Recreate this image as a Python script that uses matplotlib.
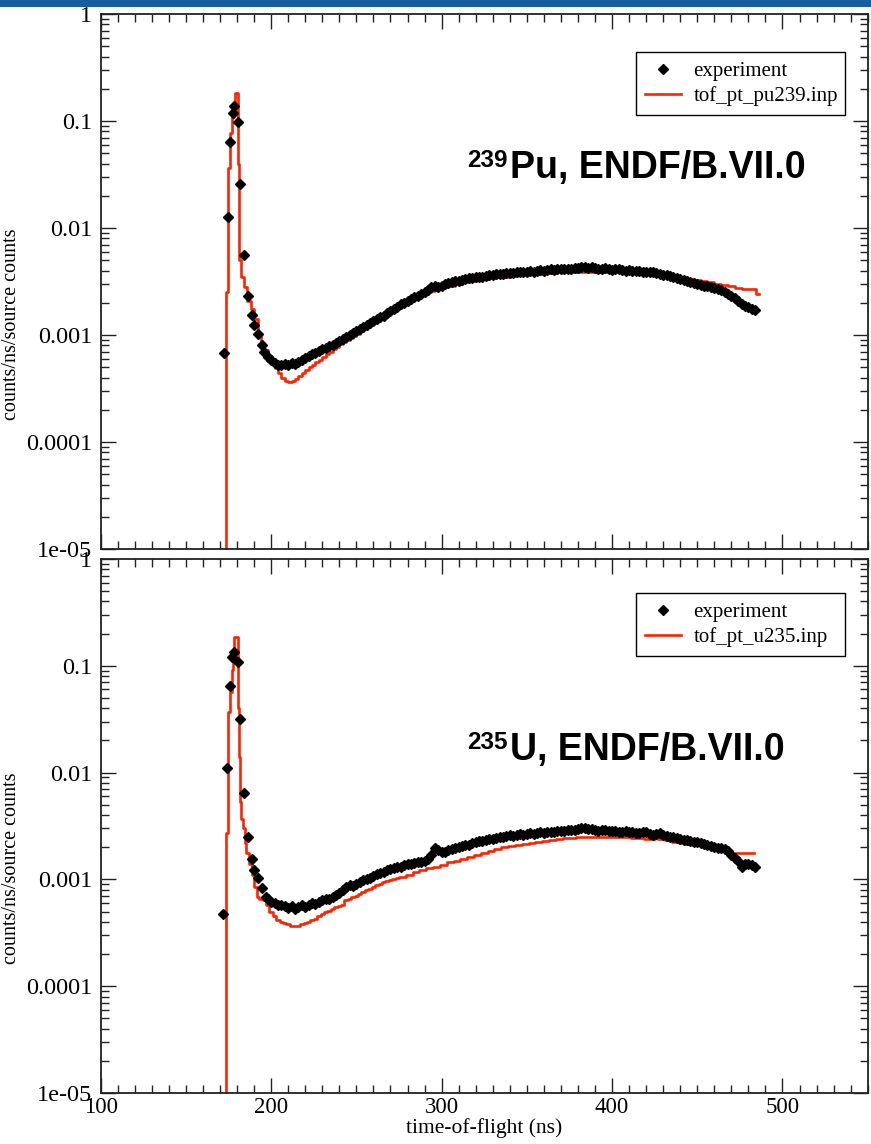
import matplotlib
matplotlib.use("Agg")
import matplotlib.pyplot as plt
from matplotlib.ticker import FixedLocator, FixedFormatter, MultipleLocator, NullFormatter, LogLocator
from matplotlib.patches import Rectangle

# ---------------- data ----------------
# Pu-239 panel: experiment (time-of-flight ns, counts/ns/source counts)
pu_exp_t = [172.5, 174.6, 175.9, 177.5, 178.3, 180.4, 181.8, 184.3, 186.3, 188.6, 190.1, 192.1, 194.5,
            196, 198, 200, 202, 204, 206, 208, 210, 212, 214, 216, 218, 220, 222, 224, 226, 228, 230,
            232, 234, 236, 238, 240, 242, 244, 246, 248, 250, 252, 254, 256, 258, 260, 262, 264, 266,
            268, 270, 272, 274, 276, 278, 280, 282, 284, 286, 288, 290, 292, 294, 296, 298, 300, 302,
            304, 306, 308, 310, 312, 314, 316, 318, 320, 322, 324, 326, 328, 330, 332, 334, 336, 338,
            340, 342, 344, 346, 348, 350, 352, 354, 356, 358, 360, 362, 364, 366, 368, 370, 372, 374,
            376, 378, 380, 382, 384, 386, 388, 390, 392, 394, 396, 398, 400, 402, 404, 406, 408, 410,
            412, 414, 416, 418, 420, 422, 424, 426, 428, 430, 432, 434, 436, 438, 440, 442, 444, 446,
            448, 450, 452, 454, 456, 458, 460, 462, 464, 466, 468, 470, 472, 474, 476, 478, 480, 482, 484]
pu_exp_v = [0.00068, 0.0126, 0.064, 0.12, 0.138, 0.098, 0.026, 0.0056, 0.0023, 0.00155, 0.00123, 0.00102, 0.00081,
            0.00070, 0.00062, 0.00058, 0.00055, 0.00053, 0.00052, 0.00054, 0.00053, 0.00055, 0.00054, 0.00056,
            0.00058, 0.00061, 0.00063, 0.00066, 0.00068, 0.00071, 0.00074, 0.00076, 0.00079, 0.00081, 0.00084,
            0.00088, 0.00091, 0.00096, 0.00100, 0.00104, 0.00108, 0.00113, 0.00118, 0.00124, 0.00129, 0.00134,
            0.00140, 0.00146, 0.00152, 0.00160, 0.00166, 0.00174, 0.00182, 0.00195, 0.00198, 0.00210, 0.00218,
            0.00225, 0.00232, 0.00240, 0.00250, 0.00262, 0.00278, 0.00285, 0.00282, 0.00290, 0.00298, 0.00305,
            0.00310, 0.00318, 0.00322, 0.00328, 0.00335, 0.00340, 0.00343, 0.00345, 0.00352, 0.00350, 0.00358,
            0.00362, 0.00360, 0.00368, 0.00372, 0.00370, 0.00376, 0.00380, 0.00378, 0.00385, 0.00390, 0.00388,
            0.00392, 0.00395, 0.00392, 0.00398, 0.00402, 0.00400, 0.00405, 0.00410, 0.00405, 0.00412, 0.00415,
            0.00410, 0.00418, 0.00415, 0.00420, 0.00425, 0.00430, 0.00428, 0.00425, 0.00430, 0.00422, 0.00418,
            0.00415, 0.00420, 0.00412, 0.00408, 0.00415, 0.00410, 0.00402, 0.00398, 0.00405, 0.00400, 0.00395,
            0.00398, 0.00392, 0.00388, 0.00392, 0.00385, 0.00380, 0.00372, 0.00365, 0.00360, 0.00355, 0.00348,
            0.00342, 0.00335, 0.00328, 0.00320, 0.00312, 0.00305, 0.00298, 0.00292, 0.00288, 0.00285, 0.00280,
            0.00276, 0.00270, 0.00262, 0.00252, 0.00242, 0.00232, 0.00222, 0.00208, 0.00195, 0.00185, 0.00182,
            0.00176, 0.00172]

# Pu-239 panel: calculation (histogram, left bin edges and values)
pu_calc_t = [172.0, 173.6, 174.4, 175.9, 177.0, 178.0, 178.9, 180.3, 181.3, 182.4,
             184, 186, 188, 190, 192, 194, 196, 198, 200, 202, 204, 206, 208, 210, 212, 214, 216, 218,
             220, 222, 224, 226, 228, 230, 232, 234, 236, 238, 240, 242, 244, 246, 248, 250, 252, 254,
             256, 258, 260, 262, 264, 266, 268, 270, 272, 274, 276, 278, 280, 282, 284, 286, 288, 290,
             292, 294, 296, 298, 300, 304, 308, 312, 316, 320, 324, 328, 332, 336, 340, 344, 348, 352,
             356, 360, 364, 368, 372, 376, 380, 384, 388, 392, 396, 400, 404, 408, 412, 416, 420, 424,
             428, 432, 436, 440, 444, 448, 452, 456, 460, 464, 468, 472, 476, 480, 484.6, 486.0]
pu_calc_v = [1e-7, 0.0025, 0.036, 0.077, 0.11, 0.15, 0.184, 0.040, 0.005, 0.0035,
             0.0028, 0.0021, 0.00175, 0.0014, 0.00105, 0.00085, 0.00072, 0.00063, 0.00055, 0.00049,
             0.00044, 0.00040, 0.00037, 0.00036, 0.00037, 0.00039, 0.00041, 0.00044, 0.00047, 0.00050,
             0.00053, 0.00056, 0.00059, 0.00062, 0.00066, 0.00070, 0.00074, 0.00078, 0.00082, 0.00086,
             0.00090, 0.00094, 0.00098, 0.00103, 0.00108, 0.00114, 0.00120, 0.00126, 0.00132, 0.00138,
             0.00145, 0.00152, 0.00160, 0.00167, 0.00175, 0.00183, 0.00190, 0.00197, 0.00205, 0.00212,
             0.00220, 0.00228, 0.00236, 0.00244, 0.00252, 0.00260, 0.00268, 0.00274, 0.00280, 0.00290,
             0.00300, 0.00310, 0.00318, 0.00326, 0.00333, 0.00340, 0.00346, 0.00352, 0.00358, 0.00362,
             0.00367, 0.00371, 0.00375, 0.00378, 0.00381, 0.00384, 0.00386, 0.00388, 0.00390, 0.00392,
             0.00390, 0.00388, 0.00388, 0.00386, 0.00386, 0.00384, 0.00380, 0.00376, 0.00370, 0.00365,
             0.00358, 0.00350, 0.00345, 0.00340, 0.00335, 0.00330, 0.00320, 0.00310, 0.00300, 0.00292,
             0.00285, 0.00275, 0.00268, 0.00268, 0.00240, 0.00240]

# U-235 panel: experiment
u_exp_t = [171.6, 174.3, 175.9, 177.3, 178.3, 180.4, 181.7, 184.3, 186.3, 188.6, 190.1, 192.1, 194.5, 197,
           198, 200, 202, 204, 206, 208, 210, 212, 214, 216, 218, 220, 222, 224, 226, 228, 230, 232, 234,
           236, 238, 240, 242, 244, 246, 248, 250, 252, 254, 256, 258, 260, 262, 264, 266, 268, 270, 272,
           274, 276, 278, 280, 282, 284, 286, 288, 290, 292, 294, 296, 298, 300, 302, 304, 306, 308, 310,
           312, 314, 316, 318, 320, 322, 324, 326, 328, 330, 332, 334, 336, 338, 340, 342, 344, 346, 348,
           350, 352, 354, 356, 358, 360, 362, 364, 366, 368, 370, 372, 374, 376, 378, 380, 382, 384, 386,
           388, 390, 392, 394, 396, 398, 400, 402, 404, 406, 408, 410, 412, 414, 416, 418, 420, 422, 424,
           426, 428, 430, 432, 434, 436, 438, 440, 442, 444, 446, 448, 450, 452, 454, 456, 458, 460, 462,
           464, 466, 468, 470, 472, 474, 476, 478, 480, 482, 484]
u_exp_v = [0.00047, 0.011, 0.065, 0.12, 0.135, 0.109, 0.0316, 0.0065, 0.0025, 0.00155, 0.00123, 0.00102, 0.00083, 0.00069,
           0.00066, 0.00062, 0.00060, 0.00058, 0.00057, 0.00056, 0.00054, 0.00056, 0.00053, 0.00055, 0.00057,
           0.00055, 0.00058, 0.00060, 0.00059, 0.00062, 0.00064, 0.00066, 0.00065, 0.00068, 0.00072, 0.00075,
           0.00080, 0.00085, 0.00088, 0.00086, 0.00090, 0.00095, 0.00098, 0.00100, 0.00104, 0.00108, 0.00112,
           0.00115, 0.00118, 0.00122, 0.00125, 0.00128, 0.00130, 0.00132, 0.00135, 0.00138, 0.00140, 0.00142,
           0.00145, 0.00146, 0.00150, 0.00155, 0.00168, 0.00195, 0.00190, 0.00180, 0.00182, 0.00188, 0.00192,
           0.00198, 0.00202, 0.00205, 0.00210, 0.00212, 0.00218, 0.00225, 0.00230, 0.00228, 0.00235, 0.00240,
           0.00238, 0.00245, 0.00250, 0.00248, 0.00255, 0.00258, 0.00255, 0.00262, 0.00265, 0.00262, 0.00268,
           0.00270, 0.00268, 0.00272, 0.00275, 0.00272, 0.00276, 0.00280, 0.00278, 0.00282, 0.00285, 0.00282,
           0.00288, 0.00292, 0.00290, 0.00295, 0.00305, 0.00302, 0.00298, 0.00295, 0.00290, 0.00285, 0.00288,
           0.00290, 0.00285, 0.00282, 0.00286, 0.00280, 0.00276, 0.00282, 0.00278, 0.00275, 0.00270, 0.00272,
           0.00278, 0.00275, 0.00268, 0.00262, 0.00265, 0.00270, 0.00262, 0.00255, 0.00250, 0.00248, 0.00245,
           0.00240, 0.00236, 0.00232, 0.00228, 0.00225, 0.00222, 0.00218, 0.00214, 0.00210, 0.00206, 0.00200,
           0.00198, 0.00196, 0.00192, 0.00185, 0.00170, 0.00160, 0.00148, 0.00130, 0.00138, 0.00140, 0.00136,
           0.00132]

# U-235 panel: calculation (histogram, left bin edges and values)
u_calc_t = [171.5, 173.8, 174.5, 175.9, 176.8, 177.8, 178.5, 180.4, 181.3, 181.7, 182.6, 183.5, 184.5,
            185.5, 187, 188.5, 190, 191.5, 193, 195, 197, 199, 201, 203, 205, 207, 209, 211, 213, 215, 217,
            219, 221, 223, 225, 227, 229, 231, 233, 235, 237, 239, 241, 243, 245, 247, 249, 251, 253, 255,
            257, 259, 261, 263, 265, 267, 269, 271, 273, 275, 279, 283, 287, 291, 295, 299, 303, 307, 311,
            315, 319, 323, 327, 331, 335, 339, 343, 347, 351, 355, 359, 363, 367, 371, 375, 379, 383, 387,
            391, 395, 399, 403, 407, 411, 415, 419, 423, 425, 427, 431, 435, 439, 443, 447, 451, 455, 459,
            463, 466, 483.4]
u_calc_v = [1e-7, 0.0027, 0.037, 0.057, 0.091, 0.14, 0.187, 0.040, 0.014, 0.0053, 0.0037, 0.0030, 0.0022,
            0.00176, 0.0014, 0.0011, 0.00085, 0.00068, 0.00066, 0.00064, 0.00058, 0.00050, 0.00045, 0.00042,
            0.00040, 0.00039, 0.00038, 0.00037, 0.00037, 0.00037, 0.00038, 0.00039, 0.00040, 0.00042, 0.00043,
            0.00045, 0.00047, 0.00049, 0.00051, 0.00053, 0.00055, 0.00056, 0.00057, 0.00064, 0.00066, 0.00068,
            0.00070, 0.00073, 0.00076, 0.00079, 0.00082, 0.00085, 0.00088, 0.00091, 0.00094, 0.00097, 0.00099,
            0.00101, 0.00104, 0.00106, 0.00111, 0.00117, 0.00123, 0.00127, 0.00131, 0.00137, 0.00144, 0.00150,
            0.00156, 0.00163, 0.00170, 0.00177, 0.00185, 0.00192, 0.00200, 0.00205, 0.00210, 0.00215, 0.00220,
            0.00225, 0.00230, 0.00235, 0.00238, 0.00242, 0.00245, 0.00248, 0.00250, 0.00251, 0.00251, 0.00251,
            0.00250, 0.00250, 0.00249, 0.00246, 0.00243, 0.00240, 0.00240, 0.00252, 0.00238, 0.00232, 0.00226,
            0.00220, 0.00216, 0.00212, 0.00208, 0.00205, 0.00202, 0.00199, 0.00178, 0.00178]

y_ticks = [1e-5, 1e-4, 1e-3, 1e-2, 1e-1, 1]
y_tick_labels = ["1e-05", "0.0001", "0.001", "0.01", "0.1", "1"]
x_ticks = [100, 200, 300, 400, 500]
x_tick_labels = ["100", "200", "300", "400", "500"]

panels = [
    dict(exp_t=pu_exp_t, exp_v=pu_exp_v, calc_t=pu_calc_t, calc_v=pu_calc_v,
         calc_label="tof_pt_pu239.inp", sup="239", name="Pu, ENDF/B.VII.0"),
    dict(exp_t=u_exp_t, exp_v=u_exp_v, calc_t=u_calc_t, calc_v=u_calc_v,
         calc_label="tof_pt_u235.inp", sup="235", name="U, ENDF/B.VII.0"),
]

# ---------------- figure ----------------
W, H = 871, 1144
fig = plt.figure(figsize=(W / 100, H / 100), dpi=100)
plt.rcParams['font.family'] = ['Liberation Serif', 'DejaVu Serif']

RED = '#ff2200'
left_px, right_px = 100.7, 867.7
boxes = [(14, 549), (559, 1093)]
legend_tops = [0.929, 0.9363]
text_base = [0.6935, 0.6236]

# blue band at top
fig.add_artist(Rectangle((0, 1 - 7 / H), 1, 7 / H, transform=fig.transFigure,
                         facecolor='#155f9f', edgecolor='none'))

for i, (p, (top_px, bot_px)) in enumerate(zip(panels, boxes)):
    ax = fig.add_axes([left_px / W, 1 - bot_px / H, (right_px - left_px) / W, (bot_px - top_px) / H])
    ax.set_yscale('log')
    ax.set_xlim(100, 550)
    ax.set_ylim(1e-5, 1)

    ln, = ax.step(p['calc_t'], p['calc_v'], where='post', color=RED, lw=1.9, zorder=2)
    pts, = ax.plot(p['exp_t'], p['exp_v'], linestyle='none', marker='D', markersize=4.8,
                   color='black', zorder=3)

    ax.xaxis.set_major_locator(FixedLocator(x_ticks))
    ax.xaxis.set_minor_locator(MultipleLocator(10))
    ax.yaxis.set_major_locator(FixedLocator(y_ticks))
    ax.yaxis.set_major_formatter(FixedFormatter(y_tick_labels))
    ax.yaxis.set_minor_locator(LogLocator(base=10, subs=range(2, 10)))
    ax.yaxis.set_minor_formatter(NullFormatter())
    if i == 1:
        ax.xaxis.set_major_formatter(FixedFormatter(x_tick_labels))
        ax.set_xlabel('time-of-flight (ns)', fontsize=15.5, labelpad=0)
    else:
        ax.xaxis.set_major_formatter(NullFormatter())

    ax.tick_params(which='both', direction='in', top=True, right=True, color='#222222')
    ax.tick_params(which='major', length=11, width=1.0, pad=5)
    ax.tick_params(which='minor', length=5.8, width=1.0)
    ax.tick_params(axis='y', which='major', labelsize=17.5, pad=6)
    ax.tick_params(axis='x', which='major', labelsize=16.5, pad=3)
    for s in ax.spines.values():
        s.set_linewidth(1.3)
        s.set_color('#222222')

    ax.set_ylabel('counts/ns/source counts', fontsize=14.5)
    ax.yaxis.set_label_coords(-0.1035, 0.42)

    x0 = (636 - left_px) / (right_px - left_px)
    wl = (845 - 636) / (right_px - left_px)
    leg = ax.legend(handles=[pts, ln], labels=['experiment', p['calc_label']],
                    loc='upper left', bbox_to_anchor=(x0, legend_tops[i], wl, 0), mode='expand',
                    borderaxespad=0, fontsize=15, numpoints=1, handlelength=1.7, handletextpad=0.6,
                    labelspacing=0.25, borderpad=0.45, fancybox=False, framealpha=1)
    leg.get_frame().set_edgecolor('black')
    leg.get_frame().set_linewidth(1.0)

    # annotation
    base_y = text_base[i]
    ax.text(0.5336, base_y, p['name'], transform=ax.transAxes, fontsize=27,
            fontweight='bold', family='Liberation Sans', va='baseline', ha='left')
    ax.text(0.5310, base_y + 0.021, p['sup'], transform=ax.transAxes, fontsize=17.5,
            fontweight='bold', family='Liberation Sans', va='baseline', ha='right')

fig.savefig('out.png', dpi=100)
